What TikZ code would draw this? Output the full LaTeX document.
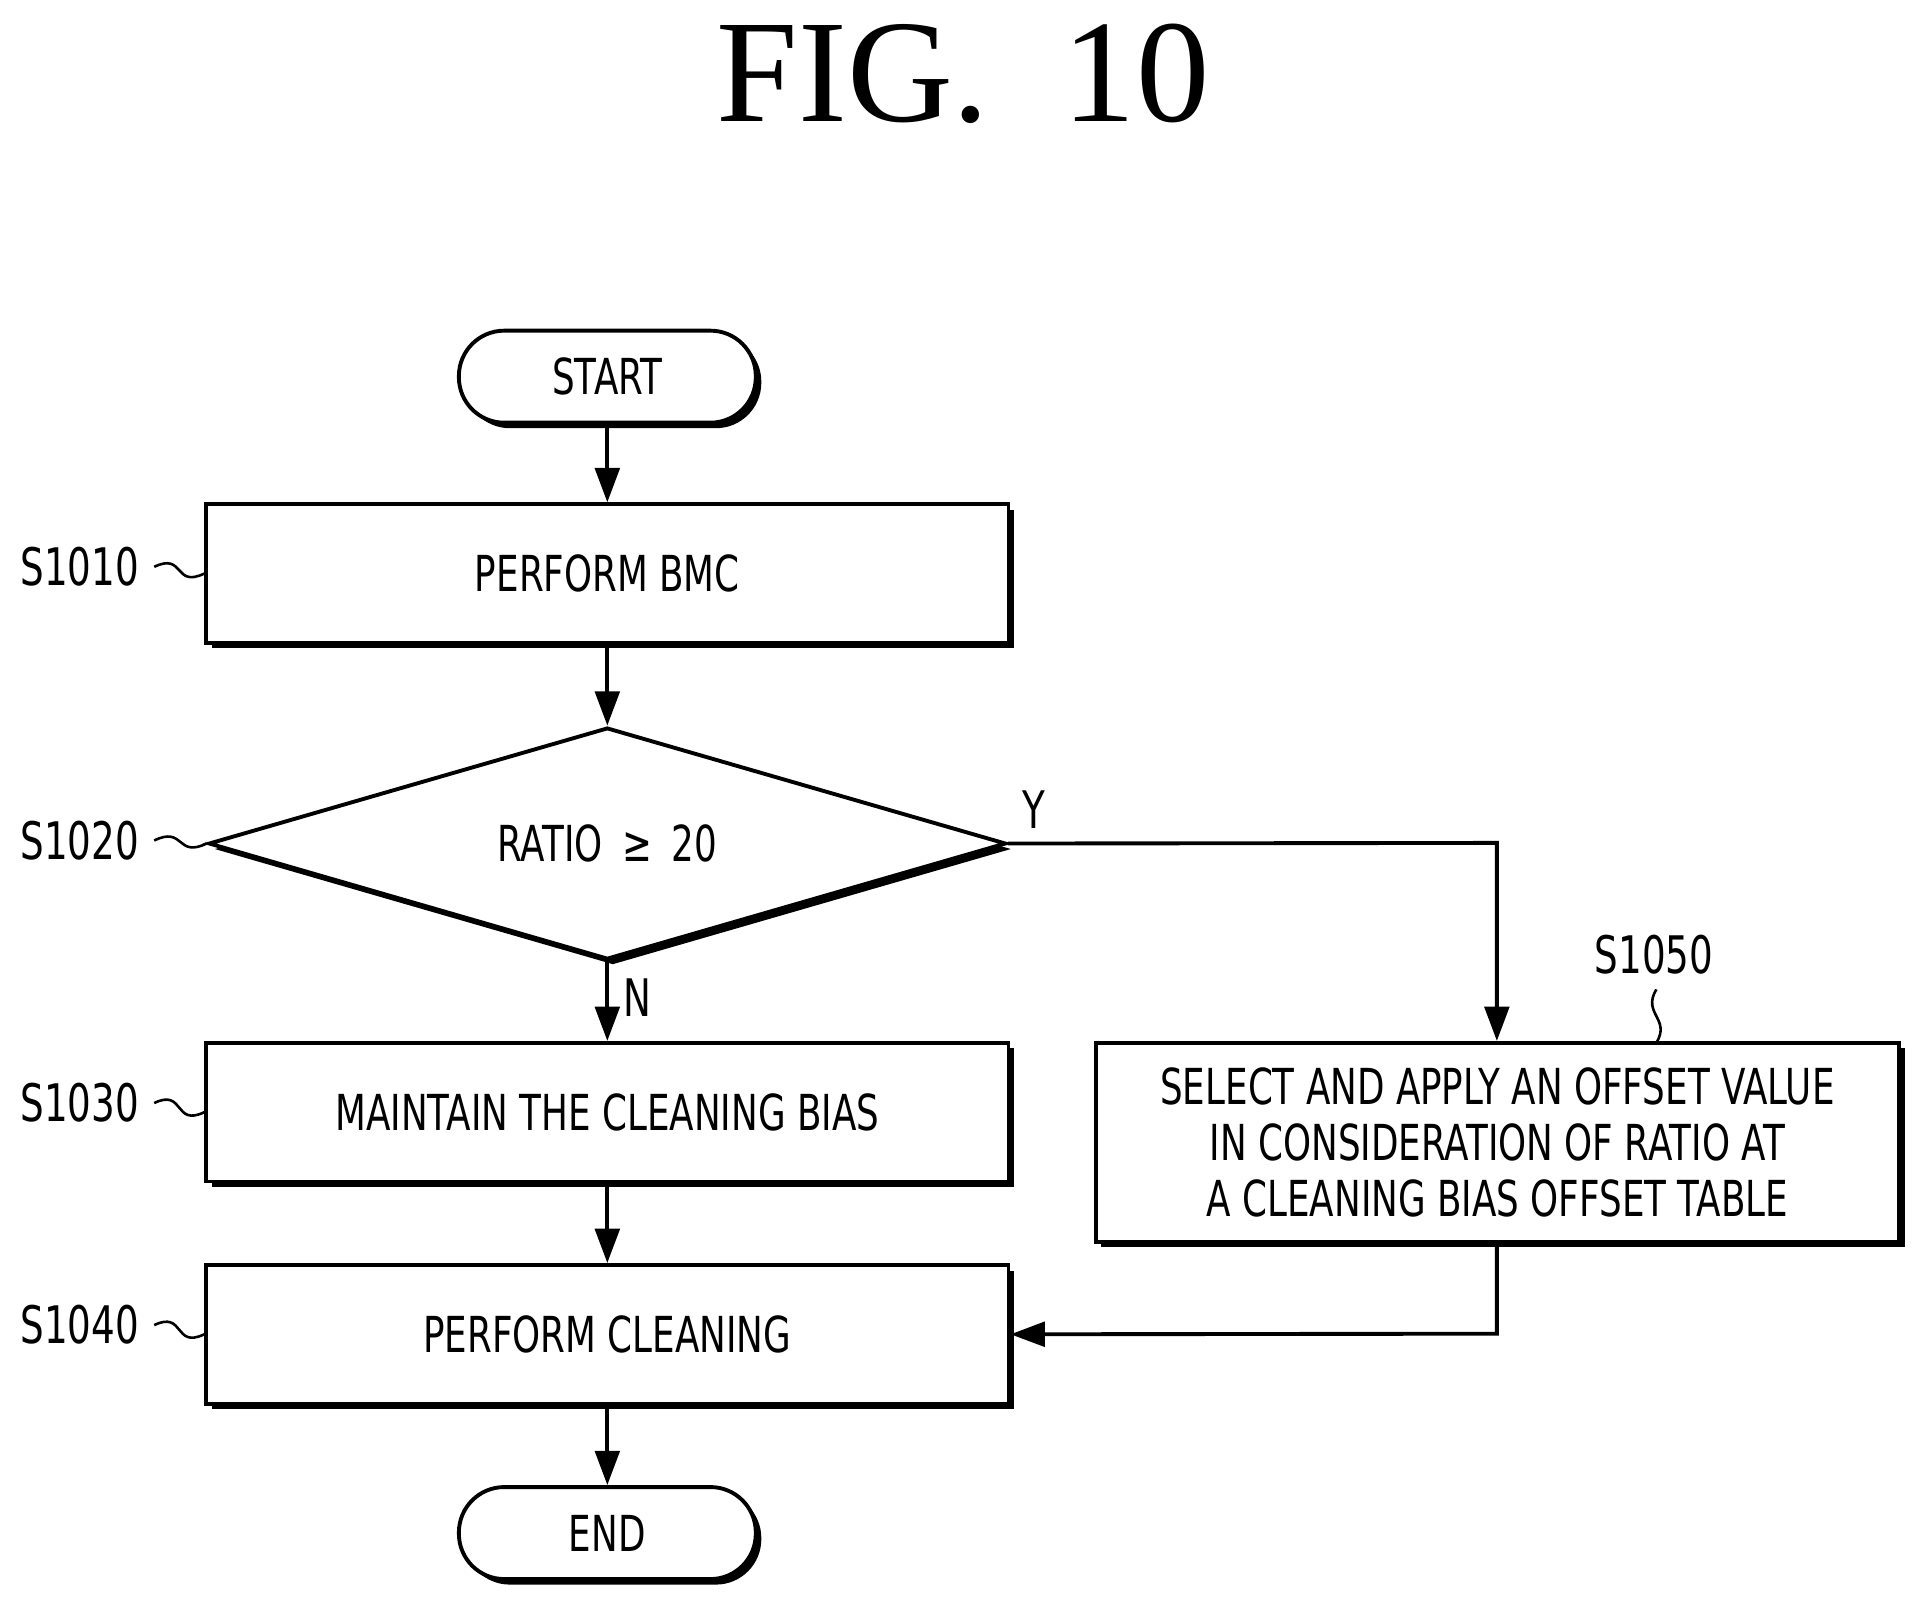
\documentclass[tikz,border=0pt]{standalone}
\usepackage{fontspec}
\setmainfont{Liberation Serif}
\newfontfamily\lab{DejaVu Sans}[FakeStretch=0.72]
\usetikzlibrary{shapes.geometric,shadows,arrows.meta}
\begin{document}
\begin{tikzpicture}[
  sh/.style={drop shadow={shadow xshift=0.045cm,shadow yshift=-0.045cm,fill=black,opacity=1}},
  box/.style={draw,line width=0.9pt,fill=white,sh,minimum width=6.54cm,minimum height=1.13cm,font=\lab\fontsize{11.5}{16}\selectfont,align=center},
  term/.style={draw,line width=0.9pt,fill=white,sh,rounded corners=0.37cm,minimum width=2.42cm,minimum height=0.75cm,font=\lab\fontsize{11.5}{16}\selectfont},
  arr/.style={line width=0.9pt,-{Triangle[length=0.28cm,width=0.2cm]}},
  stp/.style={font=\lab\fontsize{12}{16}\selectfont},
  sq/.style={line width=0.6pt}
]
\useasboundingbox (0,0) rectangle (15.6,-13.02);
\node[font=\fontsize{34}{40}\selectfont] (title) at (7.85,-0.6) {FIG.\ \ 10};
\node[term] (start) at (4.95,-3.07) {START};
\node[box] (s1010) at (4.95,-4.675) {PERFORM BMC};
\node[draw,line width=0.9pt,fill=white,sh,diamond,aspect=3.44,minimum width=6.5cm,minimum height=1.89cm,inner sep=0pt,font=\lab\fontsize{11.5}{16}\selectfont] (s1020) at (4.95,-6.875) {RATIO \,≥\, 20};
\node[box] (s1030) at (4.95,-9.065) {MAINTAIN THE CLEANING BIAS};
\node[box] (s1040) at (4.95,-10.875) {PERFORM CLEANING};
\node[term] (end) at (4.95,-12.495) {END};
\node[box,minimum width=6.55cm,minimum height=1.62cm,inner sep=1pt] (s1050) at (12.205,-9.31) {SELECT AND APPLY AN OFFSET VALUE\\[-3pt] IN CONSIDERATION OF RATIO AT\\[-3pt] A CLEANING BIAS OFFSET TABLE};
\draw[arr] (start) -- (s1010);
\draw[arr] (s1010) -- (s1020);
\draw[arr] (s1020) -- (s1030) node[pos=0.45,right,stp] (n) {N};
\draw[arr] (s1030) -- (s1040);
\draw[arr] (s1040) -- (end);
\coordinate (yc) at (12.2,-6.87);
\draw[arr] (s1020.east) -- (yc) -- (s1050.north -| yc);
\node[stp] (y) at (8.43,-6.6) {Y};
\coordinate (bc) at (12.2,-10.87);
\draw[arr] (s1050.south -| bc) -- (bc) -- (s1040.east);
\node[stp] (l1) at (0.65,-4.62) {S1010};
\node[stp] (l2) at (0.65,-6.85) {S1020};
\node[stp] (l3) at (0.65,-8.99) {S1030};
\node[stp] (l4) at (0.65,-10.8) {S1040};
\node[stp] (l5) at (13.48,-7.78) {S1050};
\foreach \l/\n in {l1/s1010,l2/s1020,l3/s1030,l4/s1040}
  \draw[sq] (\l.east) .. controls +(0.25,0.12) and +(-0.25,-0.12) .. (\n.west);
\coordinate (q5) at (13.5,-8.5);
\draw[sq] (l5.south -| q5) .. controls +(-0.12,-0.2) and +(0.12,0.2) .. (q5);
\end{tikzpicture}
\end{document}
